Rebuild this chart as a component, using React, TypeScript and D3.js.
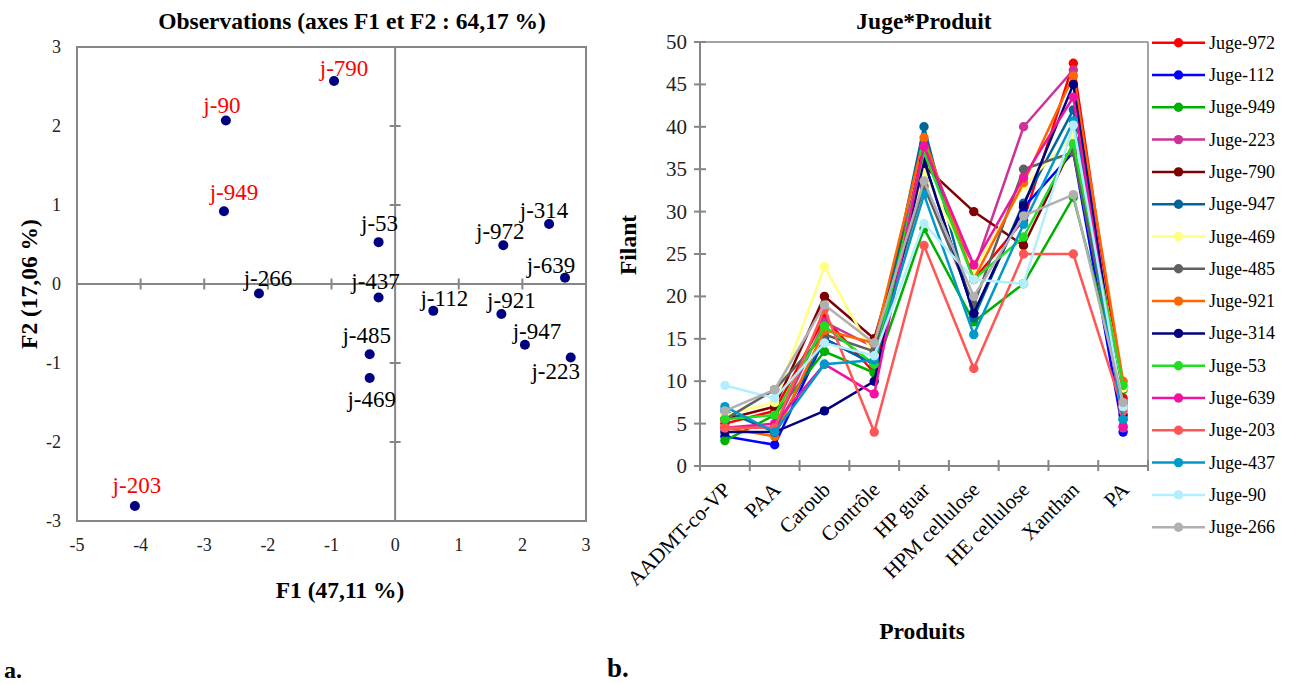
import React from "react";
import * as d3 from "d3";

// ---------- Left chart data (PCA observations) ----------
const obsLabels = ["j-790","j-90","j-949","j-53","j-972","j-314","j-639","j-266","j-437","j-112","j-921","j-947","j-223","j-485","j-469","j-203"];
const obsF1 = [-0.96,-2.66,-2.69,-0.26,1.70,2.42,2.67,-2.14,-0.26,0.60,1.67,2.04,2.76,-0.40,-0.40,-4.09];
const obsF2 = [2.57,2.07,0.92,0.53,0.49,0.76,0.08,-0.12,-0.17,-0.34,-0.38,-0.77,-0.93,-0.89,-1.19,-2.81];
const highlighted = ["j-790","j-90","j-949","j-203"];
const f1Ticks = [-5,-4,-3,-2,-1,0,1,2,3];
const f2Ticks = [-3,-2,-1,0,1,2,3];

// label placement (layout only)
const labelOffsets: [number, number][] = [
  [10,-5],[-4,-7],[10,-11],[1,-11],[-3,-6],[-5,-6],[-14,-5],[9,-7],
  [-3,-8],[11,-5],[10,-6],[12,-6],[-15,22],[-3,-11],[2,29],[2,-13]
];

// ---------- Right chart data ----------
const categories = ["AADMT-co-VP","PAA","Caroub","Contrôle","HP guar","HPM cellulose","HE cellulose","Xanthan","PA"];
const judges = ["Juge-972","Juge-112","Juge-949","Juge-223","Juge-790","Juge-947","Juge-469","Juge-485","Juge-921","Juge-314","Juge-53","Juge-639","Juge-203","Juge-437","Juge-90","Juge-266"];
const j972 = [5, 6.5, 17.5, 11, 38, 22, 29, 47.5, 8];
const j112 = [3.5, 2.5, 15, 12, 36, 18, 30.5, 37, 4];
const j949 = [3, 6, 13.5, 11, 28, 17, 21.5, 31.7, 9];
const j223 = [4.5, 4.5, 17, 14, 37, 23, 40, 46.7, 4.5];
const j790 = [5.5, 7, 20, 15, 35.4, 30, 26, 38, 7.5];
const j947 = [6.5, 4, 15, 12, 40, 17.5, 31, 42, 5.5];
const j469 = [6, 7.5, 23.5, 13, 34.6, 23, 33, 39, 9.2];
const j485 = [5.5, 9, 15.5, 13.5, 33, 19, 35, 37, 7];
const j921 = [4.5, 3.5, 16, 14.5, 38.7, 22, 33.4, 46, 10];
const j314 = [4, 4, 6.5, 10, 36, 18, 30.7, 45, 6];
const j53 = [5.5, 6, 16.5, 12, 37, 22, 27, 38, 9.5];
const j639 = [4.5, 5, 12, 8.5, 37.7, 23.7, 34, 43.5, 4.7];
const j203 = [4.5, 4.5, 18.5, 4, 26, 11.5, 25, 25, 6.5];
const j437 = [7, 4, 12, 12.5, 32, 15.5, 28.5, 40.7, 5.5];
const j90 = [9.5, 8, 14.5, 13, 28.6, 22, 21.5, 40.2, 7];
const j266 = [6.5, 9, 19, 14.5, 33.6, 20, 29.5, 32, 7.5];
const seriesValues = [j972,j112,j949,j223,j790,j947,j469,j485,j921,j314,j53,j639,j203,j437,j90,j266];
const seriesColors = ["#FF0000","#0000FF","#00B000","#CC3399","#7F0000","#006699","#FFFF80","#606060","#FF6600","#000080","#22DD22","#F012A0","#FF5555","#0099CC","#B3EEFF","#B0B0B0"];
const yTicksR = [0,5,10,15,20,25,30,35,40,45,50];

const FONT = "'Liberation Serif', 'Times New Roman', serif";
const AXIS = "#868686";

export default function App() {
  // left scales
  const xL = d3.scaleLinear().domain([-5, 3]).range([77, 586]);
  const yL = d3.scaleLinear().domain([-3, 3]).range([521, 47]);
  // right scales
  const xR = d3.scaleBand().domain(categories).range([700, 1148]).paddingInner(0).paddingOuter(0);
  const cx = (c: string) => (xR(c) as number) + xR.bandwidth() / 2;
  const yR = d3.scaleLinear().domain([0, 50]).range([466, 42]);
  const line = d3.line<number>().x((_, i) => cx(categories[i])).y((v) => yR(v));
  const boundaries = categories.map((c) => xR(c) as number).concat([1148]);

  const legendY0 = 42.7;
  const legendStep = 32.3;

  return (
    <svg width={1294} height={684} style={{ position: "absolute", left: 0, top: 0, background: "#fff" }} fontFamily={FONT}>
      <rect width={1294} height={684} fill="#fff" />
      {/* ================= LEFT CHART ================= */}
      <text x={352} y={29} textAnchor="middle" fontSize={23.5} fontWeight="bold">Observations (axes F1 et F2 : 64,17 %)</text>
      <rect x={xL(-5)} y={yL(3)} width={xL(3) - xL(-5)} height={yL(-3) - yL(3)} fill="none" stroke={AXIS} strokeWidth={2} />
      {/* cross axes */}
      <line x1={xL(0)} x2={xL(0)} y1={yL(3)} y2={yL(-3)} stroke={AXIS} strokeWidth={2} />
      <line x1={xL(-5)} x2={xL(3)} y1={yL(0)} y2={yL(0)} stroke={AXIS} strokeWidth={2} />
      {f2Ticks.map((t) => (
        <line key={"yt" + t} x1={xL(0) - 5.5} x2={xL(0) + 5.5} y1={yL(t)} y2={yL(t)} stroke={AXIS} strokeWidth={2} />
      ))}
      {f1Ticks.map((t) => (
        <line key={"xt" + t} x1={xL(t)} x2={xL(t)} y1={yL(0) - 5.5} y2={yL(0) + 5.5} stroke={AXIS} strokeWidth={2} />
      ))}
      {f1Ticks.map((t) => (
        <text key={"xl" + t} x={xL(t)} y={551} textAnchor="middle" fontSize={18} fill="#222">{t}</text>
      ))}
      {f2Ticks.map((t) => (
        <text key={"yl" + t} x={61} y={yL(t) + 6} textAnchor="end" fontSize={18} fill="#222">{t}</text>
      ))}
      <text x={340} y={598} textAnchor="middle" fontSize={23.5} fontWeight="bold">F1 (47,11 %)</text>
      <text transform={`translate(37,284) rotate(-90)`} textAnchor="middle" fontSize={23.5} fontWeight="bold">F2 (17,06 %)</text>
      {obsLabels.map((lab, i) => (
        <g key={lab}>
          <circle cx={xL(obsF1[i])} cy={yL(obsF2[i])} r={5} fill="#000080" />
          <text
            x={xL(obsF1[i]) + labelOffsets[i][0]}
            y={yL(obsF2[i]) + labelOffsets[i][1]}
            textAnchor="middle"
            fontSize={23}
            fill={highlighted.includes(lab) ? "#FF0000" : "#000"}
          >{lab}</text>
        </g>
      ))}
      <text x={4} y={678} fontSize={24} fontWeight="bold">a.</text>

      {/* ================= RIGHT CHART ================= */}
      <text x={924} y={29} textAnchor="middle" fontSize={23.5} fontWeight="bold">Juge*Produit</text>
      {/* plot border top/right */}
      <line x1={700} x2={1148} y1={42} y2={42} stroke={AXIS} strokeWidth={1.5} />
      <line x1={1148} x2={1148} y1={42} y2={466} stroke={AXIS} strokeWidth={1.5} />
      {/* y axis */}
      <line x1={700} x2={700} y1={42} y2={466} stroke={AXIS} strokeWidth={2} />
      {yTicksR.map((t) => (
        <g key={"ry" + t}>
          <line x1={694} x2={706} y1={yR(t)} y2={yR(t)} stroke={AXIS} strokeWidth={2} />
          <text x={687} y={yR(t) + 7} textAnchor="end" fontSize={21} fill="#222">{t}</text>
        </g>
      ))}
      {/* x axis */}
      <line x1={700} x2={1148} y1={466} y2={466} stroke={AXIS} strokeWidth={2} />
      {boundaries.map((b, i) => (
        <line key={"rx" + i} x1={b} x2={b} y1={460} y2={471} stroke={AXIS} strokeWidth={2} />
      ))}
      {categories.map((c) => (
        <text key={"cl" + c} transform={`translate(${cx(c) + 7},491) rotate(-45)`} textAnchor="end" fontSize={21}>{c}</text>
      ))}
      <text x={922} y={639} textAnchor="middle" fontSize={23.5} fontWeight="bold">Produits</text>
      <text transform={`translate(636,245) rotate(-90)`} textAnchor="middle" fontSize={23.5} fontWeight="bold">Filant</text>
      {/* series */}
      {seriesValues.map((vals, si) => (
        <g key={"s" + si}>
          <path d={line(vals) as string} fill="none" stroke={seriesColors[si]} strokeWidth={2.5} />
          {vals.map((v, i) => (
            <circle key={i} cx={cx(categories[i])} cy={yR(v)} r={4.7} fill={seriesColors[si]} />
          ))}
        </g>
      ))}
      {/* legend */}
      {judges.map((j, i) => {
        const y = legendY0 + i * legendStep;
        return (
          <g key={"lg" + j}>
            <line x1={1152} x2={1205} y1={y} y2={y} stroke={seriesColors[i]} strokeWidth={2.5} />
            <circle cx={1178.5} cy={y} r={4.7} fill={seriesColors[i]} />
            <text x={1209} y={y + 6} fontSize={18}>{j}</text>
          </g>
        );
      })}
      <text x={607} y={677} fontSize={27} fontWeight="bold">b.</text>
    </svg>
  );
}
